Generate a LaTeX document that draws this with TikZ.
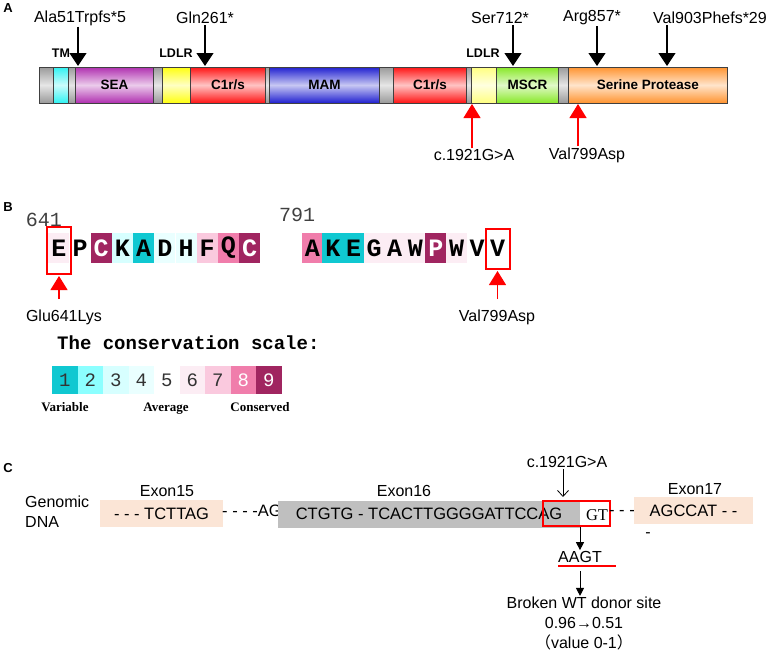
\documentclass[tikz,border=0pt]{standalone}
\usepackage{fontspec}
\setmainfont{Liberation Sans}
\newfontfamily\monofont{Liberation Mono}
\newfontfamily\seriffont{Liberation Serif}
\newfontfamily\cjkfont{Noto Sans CJK SC}
\usetikzlibrary{positioning, arrows.meta}

\definecolor{tmcyan}{HTML}{30F2F2}
\definecolor{seapurple}{HTML}{B030B0}
\definecolor{ldlryellow}{HTML}{FFFF10}
\definecolor{ldlrpale}{HTML}{FFFF80}
\definecolor{cred}{HTML}{FF1414}
\definecolor{mamblue}{HTML}{2020D0}
\definecolor{mscrgreen}{HTML}{88E828}
\definecolor{sporange}{HTML}{FF9430}
\definecolor{linkgray}{HTML}{9A9A9A}
\definecolor{cs1}{HTML}{10C8D1}
\definecolor{cs2}{HTML}{8CFFFF}
\definecolor{cs3}{HTML}{D7FFFF}
\definecolor{cs4}{HTML}{EAFFFF}
\definecolor{cs5}{HTML}{FFFFFF}
\definecolor{cs6}{HTML}{FCEDF4}
\definecolor{cs7}{HTML}{FAC9DE}
\definecolor{cs8}{HTML}{F07DAB}
\definecolor{cs9}{HTML}{A02560}
\definecolor{exonpeach}{HTML}{FBE5D6}
\definecolor{exongray}{HTML}{BFBFBF}

\newcommand{\txtA}{\fontsize{16}{19}\selectfont}
\newcommand{\seqfont}{\monofont\bfseries\fontsize{25}{25}\selectfont}

\begin{document}
\begin{tikzpicture}
[
    x=1pt, y=-1pt,
    panel/.style={font=\fontsize{13}{13}\selectfont\bfseries, inner sep=0pt},
    dom/.style={draw=black!75, line width=0.8pt, minimum height=36pt, inner sep=0pt, anchor=west, font=\fontsize{13.5}{16}\selectfont\bfseries},
    shadedom/.style={top color=#1, bottom color=#1, middle color=white!75!#1},
    domlab/.style={font=\fontsize{12.5}{14}\selectfont\bfseries, inner sep=0pt},
    mlab/.style={font=\txtA, inner sep=1pt},
    mut/.style={-{Triangle[width=17pt,length=13pt]}, line width=1.2pt, color=black},
    redmut/.style={-{Triangle[width=17pt,length=14pt]}, line width=1.2pt, color=red},
    res/.style={minimum width=21pt, minimum height=30pt, inner sep=0pt, font=\seqfont},
    hitbox/.style={draw=red, line width=2pt, inner sep=0pt},
    scalebox/.style={minimum width=25.5pt, minimum height=28pt, inner sep=0pt, font=\monofont\fontsize{19}{19}\selectfont},
    scalelab/.style={font=\seriffont\bfseries\fontsize{13}{15}\selectfont, inner sep=0pt, anchor=base},
    exon/.style={minimum height=27pt, inner sep=0pt, font=\fontsize{16.5}{19}\selectfont},
    thin arrow/.style={-{Straight Barb[length=6pt,width=11pt]}, line width=0.8pt},
    small arrow/.style={-{Triangle[width=8pt,length=8pt]}, line width=1pt},
]
    \useasboundingbox (0,0) rectangle (770,653);
    \fill[white] (0,0) rectangle (770,653);

    % ---------- A ----------
    \node[panel] (pA) at (8,8) {A};
    \node[dom, shadedom=linkgray, minimum width=14pt] (g1) at (39,85) {};
    \node[dom, shadedom=tmcyan, minimum width=15pt] (tm) at (53,85) {};
    \node[dom, shadedom=linkgray, minimum width=7pt] (g2) at (68,85) {};
    \node[dom, shadedom=seapurple, minimum width=78pt] (sea) at (75,85) {SEA};
    \node[dom, shadedom=linkgray, minimum width=9pt] (g3) at (153,85) {};
    \node[dom, shadedom=ldlryellow, minimum width=28pt] (ldlrA) at (162,85) {};
    \node[dom, shadedom=cred, minimum width=75pt] (cA) at (190,85) {C1r/s};
    \node[dom, shadedom=linkgray, minimum width=4pt] (g4) at (265,85) {};
    \node[dom, shadedom=mamblue, minimum width=110pt] (mam) at (269,85) {MAM};
    \node[dom, shadedom=linkgray, minimum width=14pt] (g5) at (379,85) {};
    \node[dom, shadedom=cred, minimum width=73pt] (cB) at (393,85) {C1r/s};
    \node[dom, shadedom=linkgray, minimum width=5pt] (g6) at (466,85) {};
    \node[dom, shadedom=ldlrpale, minimum width=25pt] (ldlrB) at (471,85) {};
    \node[dom, shadedom=mscrgreen, minimum width=62pt] (mscr) at (496,85) {MSCR};
    \node[dom, shadedom=linkgray, minimum width=10pt] (g7) at (558,85) {};
    \node[dom, shadedom=sporange, minimum width=159pt] (sp) at (568,85) {Serine Protease};

    \node[domlab] (tmlab) at (61,53) {TM};
    \node[domlab] (ldlrlabA) at (176,53) {LDLR};
    \node[domlab] (ldlrlabB) at (483,53) {LDLR};

    \node[mlab] (ala) at (80,18) {Ala51Trpfs*5};
    \node[mlab] (gln) at (205,18) {Gln261*};
    \node[mlab] (ser) at (500,18) {Ser712*};
    \node[mlab] (arg) at (592,18) {Arg857*};
    \node[mlab] (val) at (710,18) {Val903Phefs*29};
    \coordinate (alaTip) at (78,66);
    \coordinate (glnTip) at (205,66);
    \coordinate (serTip) at (513,66);
    \coordinate (argTip) at (597,66);
    \coordinate (valTip) at (667,66);
    \draw[mut] (ala.south -| alaTip) -- (alaTip);
    \draw[mut] (gln.south -| glnTip) -- (glnTip);
    \draw[mut] (ser.south -| serTip) -- (serTip);
    \draw[mut] (arg.south -| argTip) -- (argTip);
    \draw[mut] (val.south -| valTip) -- (valTip);

    \node[mlab] (splice) at (474,155) {c.1921G>A};
    \node[mlab] (vasp) at (587,155) {Val799Asp};
    \coordinate (spliceTip) at (472,104);
    \coordinate (vaspTip) at (578,104);
    \draw[redmut] (splice.north -| spliceTip) -- (spliceTip);
    \draw[redmut] (vasp.north -| vaspTip) -- (vaspTip);

    % ---------- B ----------
    \node[panel] (pB) at (8,207) {B};
    \node[font=\monofont\fontsize{20}{20}\selectfont, text=black!75, inner sep=0pt] (n641) at (44,220) {641};
    \node[font=\monofont\fontsize{20}{20}\selectfont, text=black!75, inner sep=0pt] (n791) at (297,215) {791};
    \foreach \aa/\g/\c [count=\i] in {E/6/black,P/5/black,C/9/white,K/3/black,A/1/black,D/4/black,H/4/black,F/7/black,Q/8/black,C/9/white}
        \node[res, fill=cs\g, text=\c] (s\i) at ({37.6+21.2*\i}, 248) {\aa};
    \foreach \aa/\g/\c [count=\i] in {A/8/black,K/1/black,E/1/black,G/6/black,A/6/black,W/6/black,P/9/white,W/6/black,V/5/black,V/5/black}
        \node[res, fill=cs\g, text=\c] (t\i) at ({291.7+20.6*\i}, 248) {\aa};

    \node[hitbox, minimum width=24pt, minimum height=47pt] (boxE) at (59,250.5) {};
    \node[hitbox, minimum width=24pt, minimum height=40pt] (boxV) at (497.5,249) {};
    \node[mlab] (glu) at (64,317) {Glu641Lys};
    \node[mlab] (vaspB) at (497,317) {Val799Asp};
    \coordinate (gluTip) at (59,276);
    \coordinate (vaspBTip) at (497.5,271);
    \draw[redmut] (gluTip |- 0,299) -- (gluTip);
    \draw[redmut] (vaspBTip |- 0,299) -- (vaspBTip);

    \node[font=\monofont\bfseries\fontsize{19}{19}\selectfont, inner sep=0pt, anchor=west] (scaletitle) at (57,343) {The conservation scale:};
    \foreach \g in {1,...,9}
        \node[scalebox, fill=cs\g, text={\ifnum\g>7 white\else black!80\fi}] (c\g) at ({52+25.5*\g-12.75}, 380) {\g};
    \node[scalelab] (lvar) at (65,411) {Variable};
    \node[scalelab] (lavg) at (166,411) {Average};
    \node[scalelab] (lcons) at (260,411) {Conserved};

    % ---------- C ----------
    \node[panel] (pC) at (8,468) {C};
    \node[mlab, anchor=west] (gen1) at (24,502) {Genomic};
    \node[mlab, anchor=west] (gen2) at (24,522) {DNA};

    \node[exon, fill=exonpeach, minimum width=123pt] (ex15) at (161.5,513.5) {- - - TCTTAG};
    \node[mlab] (ex15lab) at (167,491) {Exon15};
    \node[exon, fill=none] (intronA) at (252,511) {- - - -AG};
    \node[exon, fill=exongray, minimum width=302pt] (ex16) at (429,514) {CTGTG - TCACTTGGGGATTCCAG};
    \node[mlab] (ex16lab) at (404,491) {Exon16};
    \node[font=\seriffont\fontsize{16.5}{19}\selectfont, inner sep=0pt] (gt) at (597,515) {GT};
    \node[hitbox, minimum width=67pt, minimum height=25pt] (boxGT) at (576.5,513.5) {};
    \node[exon] (intronB) at (622,513) {- - -};
    \node[exon, fill=exonpeach, minimum width=119pt] (ex17) at (693.5,510.5) {AGCCAT - -\hspace{4pt}};
    \node[mlab] (ex17lab) at (695,489) {Exon17};
    \node[mlab] (dash) at (648,535) {-};

    \node[mlab] (cdna) at (567,462) {c.1921G>A};
    \coordinate (cdnaTip) at (563,497);
    \draw[thin arrow] (cdna.south -| cdnaTip) -- (cdnaTip);

    \node[mlab] (aagt) at (580,557) {AAGT};
    \coordinate (ulL) at (558,566);
    \coordinate (ulR) at (616,566);
    \draw[red, line width=2.5pt] (ulL) -- (ulR);
    \draw[small arrow] (boxGT.south -| aagt) -- (aagt.north);

    \node[mlab] (broken) at (584,603) {Broken WT donor site};
    \node[mlab] (score) at (584,623) {0.96→0.51};
    \node[mlab] (range) at (584,642) {{\cjkfont （}value 0-1{\cjkfont ）}};
    \coordinate (ulMid) at (580,571);
    \draw[small arrow] (ulMid) -- (ulMid |- broken.north);
\end{tikzpicture}
\end{document}
